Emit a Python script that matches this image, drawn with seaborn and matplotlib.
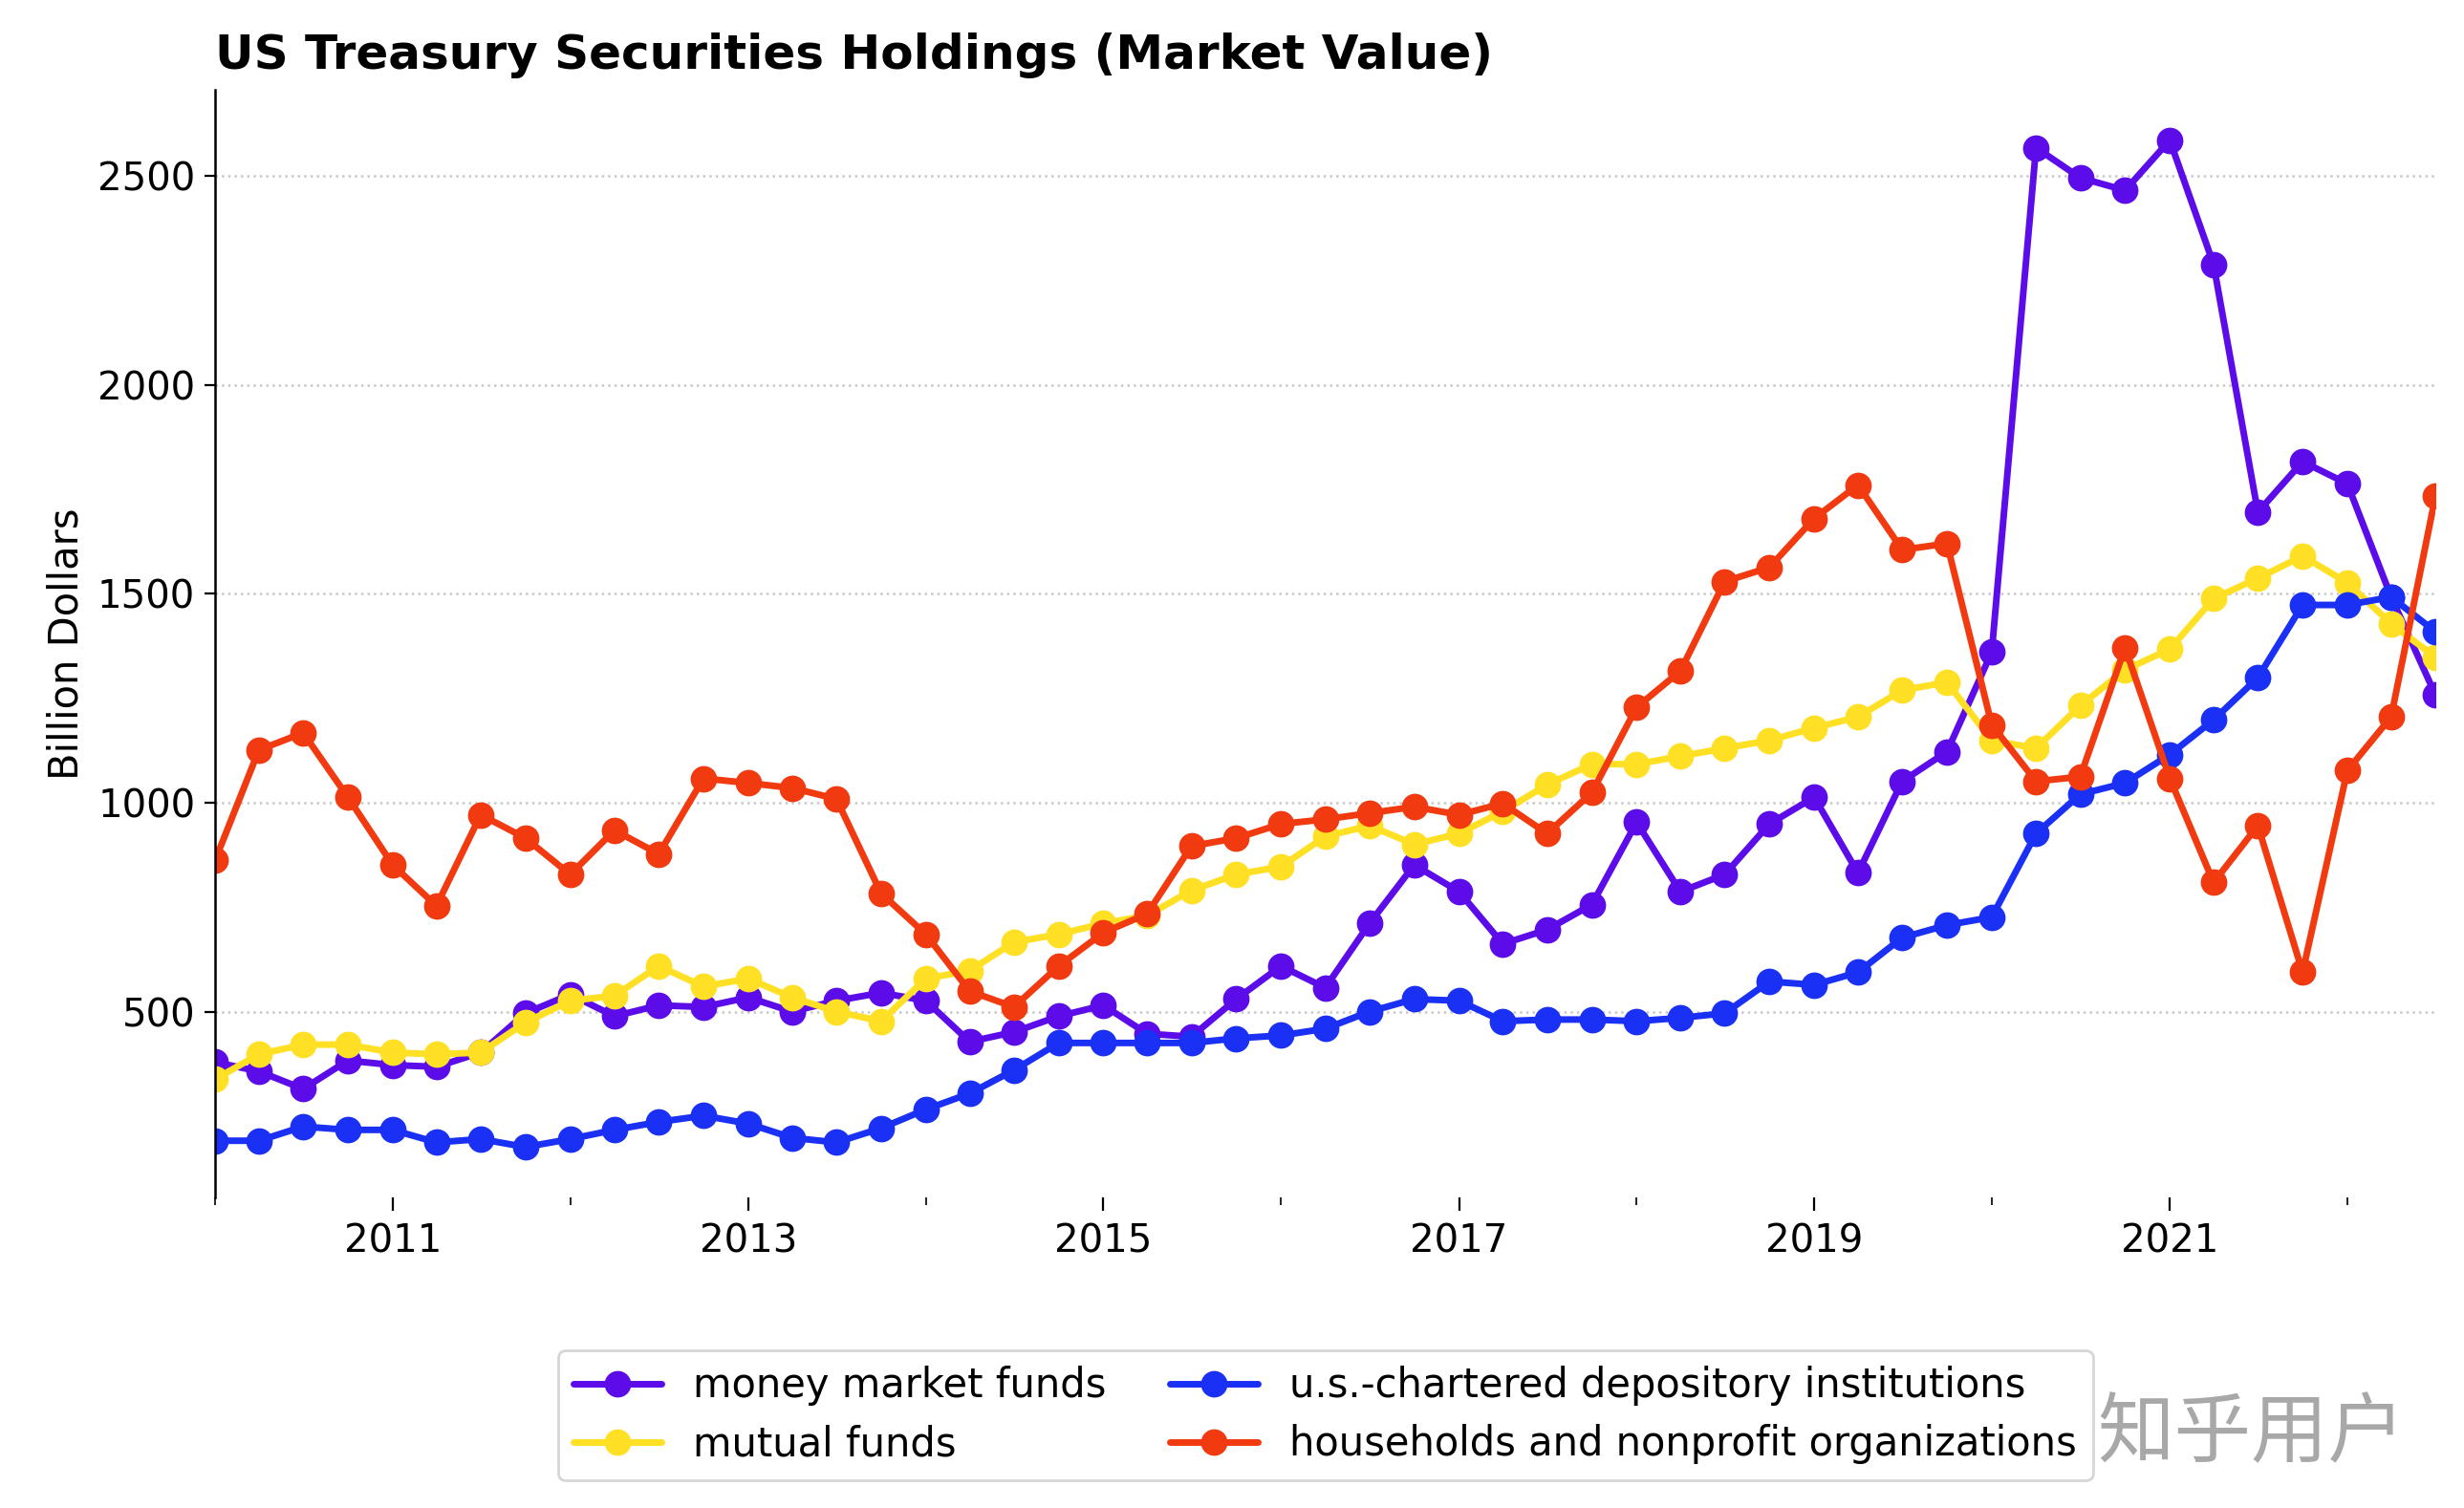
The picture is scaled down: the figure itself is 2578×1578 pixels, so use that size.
import matplotlib
matplotlib.use("Agg")
import matplotlib.pyplot as plt
import matplotlib.dates as mdates
import numpy as np
import pandas as pd
import seaborn as sns

# ---- data (billion dollars, quarterly 2010Q1 - 2022Q3) ----
dates = pd.date_range("2010-01-01", "2022-07-01", freq="QS")

money_market_funds = [379, 357, 315, 383, 372, 368, 402, 496, 541, 489,
                      515, 511, 534, 500, 526, 545, 526, 428, 451, 489,
                      515, 447, 440, 530, 609, 557, 711, 851, 787, 662,
                      696, 756, 953, 787, 828, 949, 1013, 832, 1051, 1122,
                      1360, 2567, 2495, 2465, 2585, 2288, 1695, 1816, 1763, 1492,
                      1258]
mutual_funds = [338, 398, 421, 421, 402, 398, 402, 474, 526, 538,
                609, 560, 579, 534, 500, 477, 579, 598, 666, 685,
                711, 730, 790, 828, 847, 919, 945, 900, 926, 979,
                1043, 1092, 1092, 1111, 1130, 1149, 1179, 1205, 1269, 1288,
                1149, 1130, 1232, 1318, 1367, 1488, 1537, 1590, 1526, 1428,
                1348]
depository_institutions = [191, 191, 225, 217, 217, 187, 195, 176, 195, 217,
                           236, 251, 232, 198, 187, 221, 266, 304, 360, 425,
                           425, 425, 425, 436, 443, 459, 500, 530, 526, 477,
                           481, 481, 477, 485, 496, 572, 564, 594, 677, 707,
                           726, 926, 1020, 1047, 1115, 1198, 1299, 1473, 1473, 1492,
                           1409]
households_nonprofits = [862, 1126, 1167, 1013, 851, 753, 971, 915, 828, 934,
                         877, 1058, 1047, 1035, 1009, 783, 685, 549, 511, 609,
                         689, 734, 896, 915, 949, 960, 975, 990, 971, 998,
                         926, 1024, 1228, 1315, 1529, 1563, 1680, 1760, 1605, 1620,
                         1186, 1051, 1062, 1371, 1058, 809, 945, 594, 1077, 1205,
                         1733]

series_names = ["money market funds", "mutual funds",
                "u.s.-chartered depository institutions",
                "households and nonprofit organizations"]
series_colors = ["#5B0CE8", "#FFE024", "#1A30F5", "#F23A10"]

major_years = ["2011", "2013", "2015", "2017", "2019", "2021"]
minor_years = ["2010", "2012", "2014", "2016", "2018", "2020", "2022"]
y_ticks = [500, 1000, 1500, 2000, 2500]

df = pd.DataFrame({
    "date": np.tile(dates, 4),
    "value": money_market_funds + mutual_funds + depository_institutions + households_nonprofits,
    "series": np.repeat(series_names, len(dates)),
})

# ---- plot ----
sns.set_style("white")
plt.rcParams["font.family"] = ["DejaVu Sans", "Noto Sans CJK SC"]
plt.rcParams["text.color"] = "black"
plt.rcParams["axes.labelcolor"] = "black"
plt.rcParams["xtick.color"] = "black"
plt.rcParams["ytick.color"] = "black"

fig = plt.figure(figsize=(12.89, 7.89), dpi=200)
ax = fig.add_axes([0.0873, 0.206, 0.9011, 0.7344])

sns.lineplot(data=df, x="date", y="value", hue="series", hue_order=series_names,
             palette=dict(zip(series_names, series_colors)),
             marker="o", markersize=10, markeredgewidth=0, linewidth=2.5,
             ax=ax, legend=True)

ax.set_xlim(pd.Timestamp("2010-01-01"), pd.Timestamp("2022-07-01"))
ax.set_xticks([pd.Timestamp(y + "-01-01") for y in major_years])
ax.set_xticks([pd.Timestamp(y + "-01-01") for y in minor_years], minor=True)
ax.xaxis.set_major_formatter(mdates.DateFormatter("%Y"))
ax.set_yticks(y_ticks)

ax.tick_params(axis="x", which="major", bottom=True, length=5, width=0.8,
               labelsize=14.5, pad=4.5)
ax.tick_params(axis="x", which="minor", bottom=True, length=3, width=0.6)
ax.tick_params(axis="y", which="major", left=True, length=4, width=0.8, labelsize=14.5)

ax.yaxis.grid(True, linestyle=":", color="#c8c8c8", linewidth=0.9)
ax.xaxis.grid(False)
for s in ["top", "right", "bottom"]:
    ax.spines[s].set_visible(False)
ax.spines["left"].set_color("black")
ax.spines["left"].set_linewidth(0.9)

ax.set_xlabel("")
ax.set_ylabel("Billion Dollars", fontsize=15)
ax.set_title("US Treasury Securities Holdings (Market Value)", loc="left",
             fontsize=18, fontweight="bold", pad=8)

handles, labels = ax.get_legend_handles_labels()
leg = ax.legend(handles, labels, loc="upper center", bbox_to_anchor=(0.5, -0.12),
                ncol=2, fontsize=15, frameon=True, columnspacing=1.6,
                handlelength=2.2, labelspacing=0.45, borderpad=0.4)
leg.get_frame().set_edgecolor("#cccccc")

fig.text(0.851, 0.023, "知乎用户", family=["Noto Sans CJK SC", "DejaVu Sans"],
         fontsize=29, color="#a8a8a8", ha="left", va="bottom")

fig.savefig("out.png", dpi=200)
